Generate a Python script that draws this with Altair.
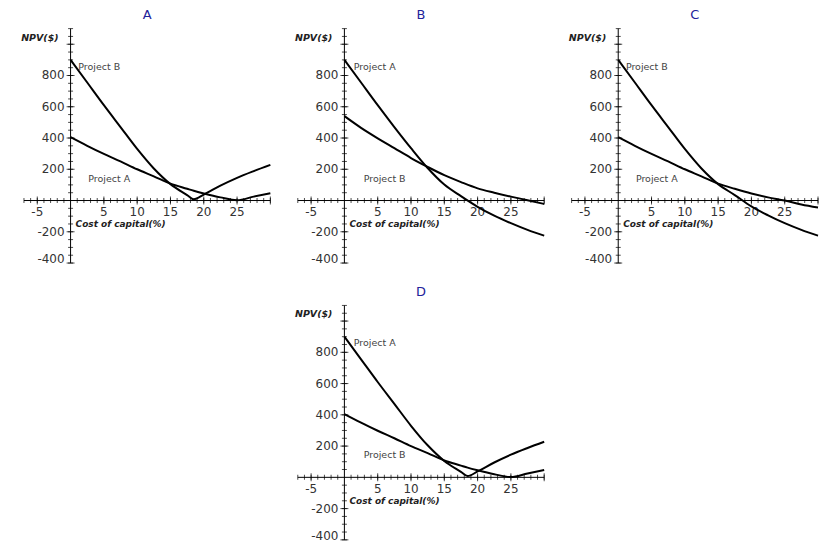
import altair as alt
import pandas as pd

# ---- data ----
rates = [0, 2.5, 5, 7.5, 10, 12.5, 15, 17.5, 20, 22.5, 25, 27.5, 30]
rates_abs = [0, 2.5, 5, 7.5, 10, 12.5, 15, 17.5, 18.5, 20, 22.5, 25, 27.5, 30]

# Panel A (absolute NPV profiles)
a_steep = [900, 755, 610, 470, 330, 205, 105, 35, 8, 38, 95, 145, 188, 228]
a_flat = [405, 350, 298, 250, 200, 155, 108, 75, 62, 45, 20, 2, 25, 47]
# Panel B
b_steep = [900, 755, 610, 470, 335, 208, 102, 28, -40, -97, -145, -188, -225]
b_flat = [540, 465, 398, 335, 272, 215, 162, 118, 78, 50, 25, 2, -22]
# Panel C
c_steep = [900, 755, 610, 470, 330, 205, 105, 35, -38, -95, -145, -188, -225]
c_flat = [405, 350, 298, 250, 200, 155, 108, 75, 45, 20, 0, -25, -45]
# Panel D (same profiles as A, labels swapped)
d_steep = [900, 755, 610, 470, 330, 205, 105, 35, 8, 38, 95, 145, 188, 228]
d_flat = [405, 350, 298, 250, 200, 155, 108, 75, 62, 45, 20, 2, 25, 47]

panel_titles = ["A", "B", "C", "D"]
top_labels = ["Project B", "Project A", "Project B", "Project A"]
low_labels = ["Project A", "Project B", "Project A", "Project B"]

x_minor = [v for v in range(-7, 31) if v != 0]
x_major = [-5, 5, 10, 15, 20, 25]
x_tick_labels = ["-5", "5", "10", "15", "20", "25"]
y_minor = [v for v in range(-400, 1101, 50) if v != 0]
y_major = [-400, -200, 200, 400, 600, 800, 1000]
y_label_vals = [-200, 200, 400, 600, 800]
y_tick_labels = ["-200", "200", "400", "600", "800"]
y_end_val = [-400]
y_end_label = ["-400"]

X_DOMAIN = [-7, 30]
Y_DOMAIN = [-400, 1100]
W, H = 247, 235
FONT = "DejaVu Sans"
TXT = "#333333"


def X(field="x"):
    return alt.X(f"{field}:Q", scale=alt.Scale(domain=X_DOMAIN, nice=False, zero=False), axis=None)


def Y(field="y"):
    return alt.Y(f"{field}:Q", scale=alt.Scale(domain=Y_DOMAIN, nice=False, zero=False), axis=None)


def panel(title, xs, steep, flat, top_lab, low_lab, top_pos, low_pos):
    curves = pd.DataFrame(
        {"x": list(xs) * 2, "y": list(steep) + list(flat),
         "p": ["s"] * len(xs) + ["f"] * len(xs)}
    )
    xaxis = alt.Chart(pd.DataFrame({"x": [X_DOMAIN[0]], "x2": [X_DOMAIN[1]], "y": [0]})).mark_rule(
        color="black", strokeWidth=1).encode(x=X(), x2="x2:Q", y=Y())
    yaxis = alt.Chart(pd.DataFrame({"x": [0], "y": [Y_DOMAIN[0]], "y2": [Y_DOMAIN[1]]})).mark_rule(
        color="black", strokeWidth=1).encode(x=X(), y=Y(), y2="y2:Q")
    xt_minor = alt.Chart(pd.DataFrame({"x": x_minor, "y": 0})).mark_tick(
        orient="vertical", size=5, thickness=1, color="black").encode(x=X(), y=Y())
    xt_major = alt.Chart(pd.DataFrame({"x": x_major + [30], "y": 0})).mark_tick(
        orient="vertical", size=8, thickness=1, color="black").encode(x=X(), y=Y())
    yt_minor = alt.Chart(pd.DataFrame({"x": 0, "y": y_minor})).mark_tick(
        orient="horizontal", size=5, thickness=1, color="black").encode(x=X(), y=Y())
    yt_major = alt.Chart(pd.DataFrame({"x": 0, "y": y_major})).mark_tick(
        orient="horizontal", size=8, thickness=1, color="black").encode(x=X(), y=Y())
    xl = alt.Chart(pd.DataFrame({"x": x_major, "y": 0, "t": x_tick_labels})).mark_text(
        font=FONT, fontSize=12, color=TXT, dy=12, baseline="middle").encode(x=X(), y=Y(), text="t:N")
    yl = alt.Chart(pd.DataFrame({"x": 0, "y": y_label_vals, "t": y_tick_labels})).mark_text(
        font=FONT, fontSize=12, color=TXT, dx=-6, align="right", baseline="middle").encode(
        x=X(), y=Y(), text="t:N")
    yl_end = alt.Chart(pd.DataFrame({"x": 0, "y": y_end_val, "t": y_end_label})).mark_text(
        font=FONT, fontSize=12, color=TXT, dx=-6, dy=-4, align="right", baseline="middle").encode(
        x=X(), y=Y(), text="t:N")
    lines = alt.Chart(curves).mark_line(color="black", strokeWidth=2, interpolate="monotone").encode(
        x=X(), y=Y(), detail="p:N")
    labs = alt.Chart(pd.DataFrame({"x": [top_pos[0], low_pos[0]], "y": [top_pos[1], low_pos[1]],
                                   "t": [top_lab, low_lab]})).mark_text(
        font=FONT, fontSize=9.5, color="#444444", align="left", baseline="middle").encode(
        x=X(), y=Y(), text="t:N")
    xtitle = alt.Chart(pd.DataFrame({"x": [0], "y": [0], "t": ["Cost of capital(%)"]})).mark_text(
        font=FONT, fontSize=9, fontStyle="italic", fontWeight="bold", color="#222222",
        align="left", baseline="middle", dx=5, dy=24).encode(x=X(), y=Y(), text="t:N")
    ytitle = alt.Chart(pd.DataFrame({"x": [0], "y": [Y_DOMAIN[1]], "t": ["NPV($)"]})).mark_text(
        font=FONT, fontSize=9.5, fontStyle="italic", fontWeight="bold", color="#222222",
        align="right", baseline="middle", dx=-12, dy=9).encode(x=X(), y=Y(), text="t:N")
    return alt.layer(
        xaxis, yaxis, xt_minor, xt_major, yt_minor, yt_major, xl, yl, yl_end, lines, labs,
        xtitle, ytitle
    ).properties(
        width=W, height=H,
        title=alt.TitleParams(title, color="#22229a", font=FONT, fontSize=13, fontWeight="normal",
                              anchor="middle", offset=6),
    )


pA = panel("A", rates_abs, a_steep, a_flat, top_labels[0], low_labels[0], (1.15, 856), (2.65, 136))
pB = panel("B", rates, b_steep, b_flat, top_labels[1], low_labels[1], (1.4, 857), (2.9, 136))
pC = panel("C", rates, c_steep, c_flat, top_labels[2], low_labels[2], (1.15, 856), (2.65, 136))
pD = panel("D", rates_abs, d_steep, d_flat, top_labels[3], low_labels[3], (1.4, 858), (2.9, 140))

spacer = alt.Chart(pd.DataFrame({"x": [0], "y": [0]})).mark_point(opacity=0).encode(
    x=X(), y=Y()).properties(width=W, height=H)

chart = alt.concat(pA, pB, pC, spacer, pD, columns=3, bounds="flush",
                   spacing=alt.RowColnumber(row=42.5, column=27.5)).properties(
    padding={"left": 13, "top": 0, "right": 0, "bottom": 0}
).configure_view(stroke=None)

chart.save("out.html", embed_options={"renderer": "svg", "actions": False})
